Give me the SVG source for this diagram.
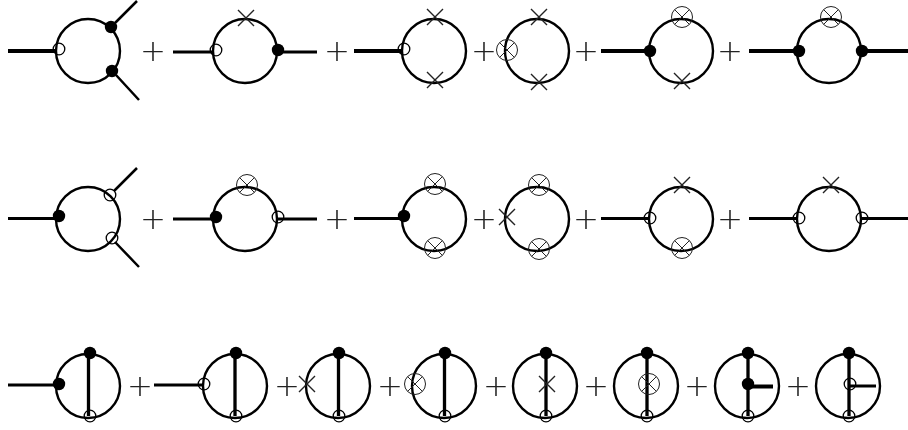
<svg xmlns="http://www.w3.org/2000/svg" width="908" height="430" viewBox="0 0 908 430">
<style>
.loop{fill:none;stroke:#000;stroke-width:2.4}
.leg{fill:none;stroke:#000;stroke-width:4}
.vert{fill:none;stroke:#000;stroke-width:3.300}
.thin{fill:none;stroke:#000;stroke-width:3}
.diag{fill:none;stroke:#000;stroke-width:2.500}
.b{fill:#000}
.o{fill:none;stroke:#000;stroke-width:1.300}
.x{fill:none;stroke:#222;stroke-width:1.400}
.p{font-family:"DejaVu Sans",sans-serif;font-weight:200;font-size:31px;fill:#222;text-anchor:middle}
</style>
<defs>
<filter id="gray" x="0" y="0" width="1" height="1" filterUnits="objectBoundingBox"><feOffset dx="0" dy="0"/></filter>
<path id="cross" class="x" d="M-8-8L8 8M-8 8L8-8"/>
<g id="ot"><circle r="10.500" fill="none" stroke="#222" stroke-width="1"/><path d="M-7.400-7.400L7.400 7.400M-7.400 7.400L7.400-7.400" fill="none" stroke="#222" stroke-width="1"/></g>
</defs>
<g id="connectors">
<path class="leg" d="M8 51H56M354 51H402M601 51H650M749 51H798M862 51H908"/>
<path class="diag" d="M115 23L137 1M116 75L139 100"/>
<path class="thin" d="M173 52H213M278 52H317"/>
<path class="thin" d="M8 218.500H56M173 219H213M278 219H317M354 218.500H402M601 218.500H650M749 218.500H798M862 218.500H908"/>
<path class="diag" d="M114 191L137 168M115 242L139 267"/>
<path class="thin" d="M8 385H56M154 385H203"/>
<path class="vert" d="M88.500 353V416M235 353V416M338.500 353V416M444.500 353V416M546 353V416M647 353V416M748 353V416M849 353V416"/>
<path class="leg" d="M748 386.500H773"/>
<path class="thin" d="M850 386H876"/>
</g>
<g id="row1">
<g id="n1"><circle class="loop" cx="88" cy="51" r="32"/><circle class="o" cx="59" cy="49" r="5.800"/><circle class="b" cx="111" cy="27" r="6.200"/><circle class="b" cx="112" cy="71" r="6.200"/></g>
<g id="n2"><circle class="loop" cx="245" cy="51" r="32"/><circle class="o" cx="216" cy="50" r="5.800"/><circle class="b" cx="278" cy="50" r="6.200"/><use href="#cross" x="246" y="18"/></g>
<g id="n3"><circle class="loop" cx="434" cy="51" r="32"/><circle class="o" cx="404" cy="49" r="5.800"/><use href="#cross" x="435" y="17"/><use href="#cross" x="435" y="80"/></g>
<g id="n4"><circle class="loop" cx="537" cy="51" r="32"/><use href="#ot" x="507" y="50"/><use href="#cross" x="539" y="17"/><use href="#cross" x="539" y="82"/></g>
<g id="n5"><circle class="loop" cx="681" cy="51" r="32"/><circle class="b" cx="650" cy="51" r="6.200"/><use href="#ot" x="682" y="17"/><use href="#cross" x="682" y="81"/></g>
<g id="n6"><circle class="loop" cx="829" cy="51" r="32"/><circle class="b" cx="799" cy="51" r="6.200"/><circle class="b" cx="862" cy="51" r="6.200"/><use href="#ot" x="831" y="17"/></g>
</g>
<g id="row2">
<g id="n7"><circle class="loop" cx="88" cy="219" r="32"/><circle class="b" cx="59" cy="216" r="6.200"/><circle class="o" cx="110" cy="195" r="5.800"/><circle class="o" cx="112" cy="238" r="5.800"/></g>
<g id="n8"><circle class="loop" cx="245" cy="219" r="32"/><circle class="b" cx="216" cy="217" r="6.200"/><circle class="o" cx="278" cy="217" r="5.800"/><use href="#ot" x="247" y="185"/></g>
<g id="n9"><circle class="loop" cx="434" cy="219" r="32"/><circle class="b" cx="404" cy="216" r="6.200"/><use href="#ot" x="435" y="184"/><use href="#ot" x="435" y="248"/></g>
<g id="n10"><circle class="loop" cx="537" cy="219" r="32"/><use href="#cross" x="507" y="217"/><use href="#ot" x="539" y="185"/><use href="#ot" x="539" y="249"/></g>
<g id="n11"><circle class="loop" cx="681" cy="219" r="32"/><circle class="o" cx="650" cy="218" r="5.800"/><use href="#cross" x="682" y="185"/><use href="#ot" x="682" y="248"/></g>
<g id="n12"><circle class="loop" cx="829" cy="219" r="32"/><circle class="o" cx="799" cy="218" r="5.800"/><circle class="o" cx="862" cy="218" r="5.800"/><use href="#cross" x="831" y="185"/></g>
</g>
<g id="row3">
<g id="n13"><circle class="loop" cx="88" cy="386" r="32"/><circle class="b" cx="90" cy="353" r="6.200"/><circle class="o" cx="90" cy="416" r="5.800"/><circle class="b" cx="59" cy="384" r="6.200"/></g>
<g id="n14"><circle class="loop" cx="235" cy="386" r="32"/><circle class="b" cx="236" cy="353" r="6.200"/><circle class="o" cx="236" cy="416" r="5.800"/><circle class="o" cx="204" cy="384" r="5.800"/></g>
<g id="n15"><circle class="loop" cx="338" cy="386" r="32"/><circle class="b" cx="339" cy="353" r="6.200"/><circle class="o" cx="339" cy="416" r="5.800"/><use href="#cross" x="307" y="384"/></g>
<g id="n16"><circle class="loop" cx="444" cy="386" r="32"/><circle class="b" cx="445" cy="353" r="6.200"/><circle class="o" cx="445" cy="416" r="5.800"/><use href="#ot" x="415" y="384"/></g>
<g id="n17"><circle class="loop" cx="545" cy="386" r="32"/><circle class="b" cx="546" cy="353" r="6.200"/><circle class="o" cx="546" cy="416" r="5.800"/><use href="#cross" x="547" y="384"/></g>
<g id="n18"><circle class="loop" cx="646" cy="386" r="32"/><circle class="b" cx="647" cy="353" r="6.200"/><circle class="o" cx="647" cy="416" r="5.800"/><use href="#ot" x="649" y="384"/></g>
<g id="n19"><circle class="loop" cx="747" cy="386" r="32"/><circle class="b" cx="748" cy="353" r="6.200"/><circle class="o" cx="748" cy="416" r="5.800"/><circle class="b" cx="748" cy="384" r="6.200"/></g>
<g id="n20"><circle class="loop" cx="848" cy="386" r="32"/><circle class="b" cx="849" cy="353" r="6.200"/><circle class="o" cx="849" cy="416" r="5.800"/><circle class="o" cx="850" cy="384" r="5.800"/></g>
</g>
<g id="plus" filter="url(#gray)">
<text class="p" x="153" y="61">+</text><text class="p" x="337" y="61">+</text><text class="p" x="484" y="61">+</text><text class="p" x="586" y="61">+</text><text class="p" x="730" y="61">+</text>
<text class="p" x="153" y="229">+</text><text class="p" x="337" y="229">+</text><text class="p" x="484" y="229">+</text><text class="p" x="586" y="229">+</text><text class="p" x="730" y="229">+</text>
<text class="p" x="140" y="396">+</text><text class="p" x="287" y="396">+</text><text class="p" x="390" y="396">+</text><text class="p" x="496" y="396">+</text><text class="p" x="596" y="396">+</text><text class="p" x="697" y="396">+</text><text class="p" x="798" y="396">+</text>
</g>
</svg>
